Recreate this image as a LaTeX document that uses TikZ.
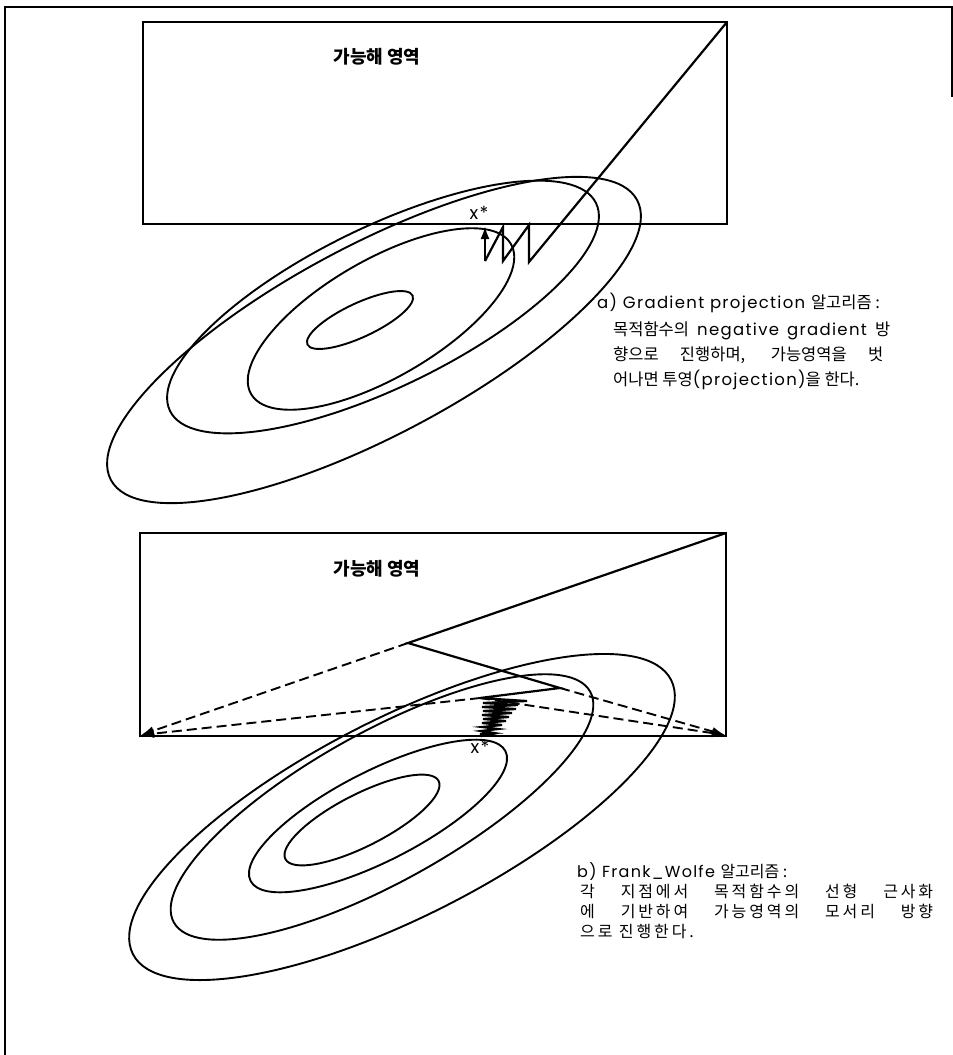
\documentclass[tikz,border=0pt]{standalone}
\usepackage{fontspec}
\usetikzlibrary{arrows.meta}
\setmainfont{Poppins}[LetterSpace=8]
\newfontfamily\kr{Noto Sans CJK KR}[LetterSpace=0]
\newfontfamily\krw{Noto Sans CJK KR}[LetterSpace=18]
\newcommand\K[1]{{\kr #1}}
\newcommand\KW[1]{{\krw #1}}
\tikzset{
  frame/.style={line width=1.4pt},
  box/.style={line width=2.8pt, line join=miter},
  ell/.style={line width=1.9pt},
  zig/.style={line width=2.2pt, line join=miter},
  dsh/.style={line width=1.9pt, dash pattern=on 10pt off 5pt},
  arr/.style={-{Latex[length=13pt,width=9pt]}},
  txta/.style={anchor=base west, inner sep=0pt, font=\fontsize{16.5}{16.5}\selectfont},
  txtb/.style={anchor=base west, inner sep=0pt, font=\fontsize{16}{16}\selectfont},
  ttl/.style={inner sep=0pt, font=\kr\bfseries\fontsize{18}{18}\selectfont},
  star/.style={inner sep=0pt, font=\fontsize{18}{18}\selectfont}
}
\begin{document}
\begin{tikzpicture}[x=1pt,y=-1pt]
\useasboundingbox (0,0) rectangle (953,1055);
% outer frame
\draw[frame] (5,1055) -- (5,7) -- (952,7) -- (952,97);

% ===== top panel =====
\draw[ell, rotate around={25:(360,320)}] (360,320) ellipse [x radius=58, y radius=17];
\draw[ell, rotate around={30:(381,319)}] (381,319) ellipse [x radius=150, y radius=59];
\draw[ell, rotate around={26:(383,307)}] (383,307) ellipse [x radius=237, y radius=80];
\draw[ell, rotate around={28:(374,340)}] (374,340) ellipse [x radius=298, y radius=95];
\draw[box] (143,22) rectangle (727,224);
\node[ttl] (ta0) at (377,57) {가능해 영역};
\coordinate (a0) at (727,22);
\coordinate (a1) at (529,262);
\coordinate (a2) at (529,225);
\coordinate (a3) at (503,261);
\coordinate (a4) at (503,227);
\coordinate (a5) at (485,261);
\coordinate (a6) at (485,226);
\draw[zig] (a0) -- (a1) -- (a2) -- (a3) -- (a4) -- (a5);
\draw[zig, arr] (a5) -- (a6);
\node[star] (xs1) at (479,213) {x*};

\node[txta] (ta1) at (597,308) {a) Gradient projection \K{알고리즘 :}};
\node[txta] (ta2) at (613,335) {\makebox[277pt][s]{\K{목적함수의} negative gradient \K{방}}};
\node[txta] (ta3) at (613,360) {\makebox[270pt][s]{\K{향으로 진행하며, 가능영역을 벗}}};
\node[txta] (ta4) at (613,385) {\K{어나면 투영}(projection)\K{을 한다.}};

% ===== bottom panel =====
\draw[ell, rotate around={27:(362,820)}] (362,820) ellipse [x radius=86, y radius=26];
\draw[ell, rotate around={27:(378,816)}] (378,816) ellipse [x radius=143, y radius=45];
\draw[ell, rotate around={29:(382,807)}] (382,807) ellipse [x radius=238, y radius=75];
\draw[ell, rotate around={27:(402,817)}] (402,817) ellipse [x radius=302, y radius=99];
\draw[box] (140,533) rectangle (726,736);
\node[ttl] (tb0) at (377,569) {가능해 영역};
\coordinate (b0) at (726,533);
\coordinate (b1) at (408,643);
\coordinate (b2) at (560,688);
\coordinate (b3) at (480,698);
\coordinate (bl) at (141,735);
\coordinate (br) at (725,735);
\draw[dsh, arr] (b1) -- (bl);
\draw[dsh, arr] (b3) -- (bl);
\draw[dsh, arr] (b2) -- (br);
\draw[dsh, arr] (b3) -- (br);
\draw[zig] (b0) -- (b1) -- (b2) -- (b3) -- (527,701) -- (483,703) -- (518,705) -- (482,707)
  -- (516,709) -- (483,711) -- (512,713) -- (482,715) -- (509,717) -- (483,719)
  -- (506,721) -- (482,723) -- (502,725) -- (482,727) -- (498,729) -- (481,731)
  -- (494,733) -- (480,734) -- (489,735) -- (481,736);
\node[star] (xs2) at (480,747) {x*};

\node[txtb] (tb1) at (577,877) {b) Frank\_Wolfe \K{알고리즘 :}};
\node[txtb] (tb2) at (580,897) {\makebox[353pt][s]{\KW{각 지점에서 목적함수의 선형 근사화}}};
\node[txtb] (tb3) at (580,917) {\makebox[353pt][s]{\KW{에 기반하여 가능영역의 모서리 방향}}};
\node[txtb] (tb4) at (580,937) {\KW{으로 진행한다.}};
\end{tikzpicture}
\end{document}
